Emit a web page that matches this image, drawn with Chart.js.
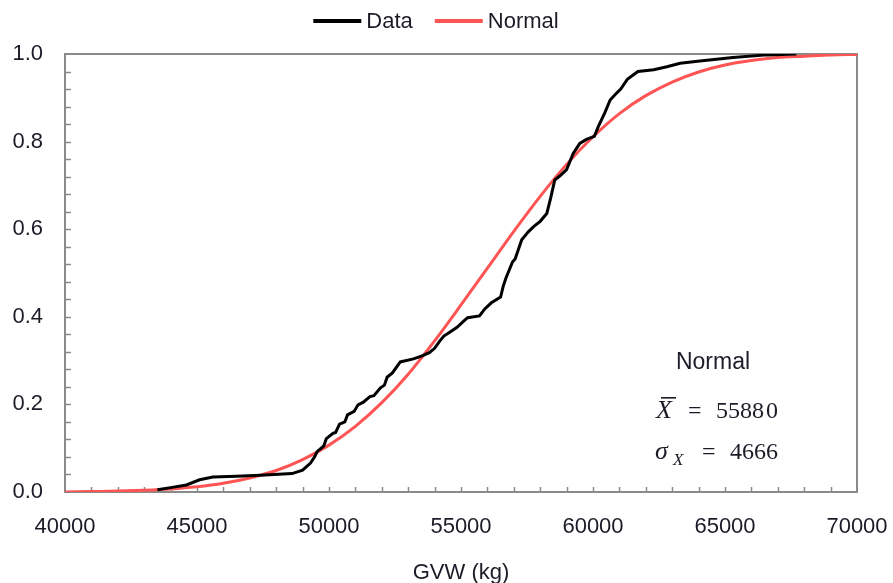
<!DOCTYPE html>
<html>
<head>
<meta charset="utf-8">
<script src="https://cdn.jsdelivr.net/npm/chart.js@4/dist/chart.umd.min.js"></script>
<style>
  html, body { margin: 0; padding: 0; background: #ffffff; }
  #wrap { width: 893px; height: 583px; }
</style>
</head>
<body>
<div id="wrap"><canvas id="cdf"></canvas></div>
<script>
// Empirical cumulative distribution of gross vehicle weight
const dataGvw = [43500, 44000, 44600, 45100, 45600, 46500, 47400, 48600, 49000, 49300,
  49450, 49550, 49800, 49900, 50150, 50250, 50400, 50600, 50700, 50950,
  51100, 51300, 51550, 51700, 51950, 52100, 52200, 52400, 52700, 53200,
  53500, 53800, 54000, 54200, 54350, 54600, 54850, 55100, 55250, 55700,
  55900, 56150, 56500, 56600, 56700, 56950, 57050, 57300, 57550, 57750,
  58000, 58250, 58400, 58550, 58750, 59000, 59250, 59500, 59750, 60050,
  60200, 60450, 60650, 60850, 61050, 61300, 61700, 62300, 62800, 63300,
  64050, 65300, 66600, 67700];
const dataCdf = [0.005, 0.010, 0.016, 0.028, 0.034, 0.036, 0.038, 0.042, 0.050, 0.066,
  0.080, 0.092, 0.105, 0.122, 0.134, 0.136, 0.155, 0.160, 0.176, 0.184,
  0.199, 0.205, 0.218, 0.220, 0.238, 0.244, 0.262, 0.272, 0.297, 0.304,
  0.310, 0.318, 0.328, 0.345, 0.356, 0.366, 0.376, 0.390, 0.398, 0.402,
  0.418, 0.432, 0.445, 0.470, 0.488, 0.525, 0.532, 0.576, 0.594, 0.606,
  0.618, 0.636, 0.672, 0.712, 0.722, 0.736, 0.773, 0.796, 0.805, 0.812,
  0.834, 0.866, 0.895, 0.908, 0.920, 0.942, 0.960, 0.964, 0.971, 0.979,
  0.984, 0.992, 0.998, 1.000];

// Fitted normal distribution, cumulative probability
const normalGvw = [40000, 41000, 42000, 43000, 44000, 45000, 46000, 47000, 48000, 49000,
  50000, 51000, 52000, 53000, 54000, 55000, 56000, 57000, 58000, 59000,
  60000, 61000, 62000, 63000, 64000, 65000, 66000, 67000, 68000, 69000, 70000];
const normalCdf = [0.000, 0.001, 0.002, 0.004, 0.007, 0.012, 0.020, 0.032, 0.049, 0.074,
  0.107, 0.150, 0.204, 0.269, 0.345, 0.427, 0.511, 0.595, 0.675, 0.748,
  0.811, 0.864, 0.905, 0.936, 0.959, 0.975, 0.985, 0.992, 0.995, 0.998, 0.999];

const seriesNames = ['Data', 'Normal'];
const seriesColors = ['#000000', '#ff5454'];
const xTickValues = [40000, 45000, 50000, 55000, 60000, 65000, 70000];
const yTickValues = [0.0, 0.2, 0.4, 0.6, 0.8, 1.0];
const fitLabel = 'Normal';
const fitMean = 55880;
const fitSigma = 4666;

const toPoints = (xs, ys) => xs.map((x, i) => ({ x: x, y: ys[i] }));

const SANS = '"Liberation Sans", Arial, sans-serif';
const SERIF = '"Liberation Serif", "Times New Roman", serif';
const TEXT = '#1c1c28';
const AXIS = '#8a8a8a';

// Frame, inward minor ticks, legend and fit annotation
const decorations = {
  id: 'decorations',
  beforeDatasetsDraw(chart) {
    const { ctx, chartArea: a, scales } = chart;
    const xs = scales.x, ys = scales.y;
    ctx.save();
    ctx.strokeStyle = AXIS;
    ctx.lineWidth = 1.5;
    ctx.beginPath();
    for (let v = 41000; v < 70000; v += 1000) {
      const px = Math.round(xs.getPixelForValue(v)) + 0.5;
      ctx.moveTo(px, a.bottom);
      ctx.lineTo(px, a.bottom - 5);
    }
    for (let k = 1; k < 25; k++) {
      const py = Math.round(ys.getPixelForValue(k * 0.04)) + 0.5;
      ctx.moveTo(a.left, py);
      ctx.lineTo(a.left + 6, py);
    }
    ctx.stroke();
    ctx.lineWidth = 2;
    ctx.strokeRect(a.left, a.top, a.right - a.left, a.bottom - a.top);
    ctx.restore();
  },
  afterDraw(chart) {
    const { ctx } = chart;
    ctx.save();
    // legend
    ctx.font = '22px ' + SANS;
    ctx.textBaseline = 'middle';
    const lineLen = 48, gap = 5, between = 22;
    const widths = seriesNames.map(n => ctx.measureText(n).width);
    const total = widths.reduce((s, w) => s + lineLen + gap + w, 0) + between * (seriesNames.length - 1);
    let x = 436 - total / 2;
    const ly = 21;
    seriesNames.forEach((n, i) => {
      ctx.strokeStyle = seriesColors[i];
      ctx.lineWidth = 4;
      ctx.beginPath();
      ctx.moveTo(x, ly);
      ctx.lineTo(x + lineLen, ly);
      ctx.stroke();
      ctx.fillStyle = TEXT;
      ctx.textAlign = 'left';
      ctx.fillText(n, x + lineLen + gap, ly + 1);
      x += lineLen + gap + widths[i] + between;
    });

    // fitted parameters
    ctx.fillStyle = TEXT;
    ctx.textAlign = 'center';
    ctx.textBaseline = 'alphabetic';
    ctx.font = '23px ' + SANS;
    ctx.fillText(fitLabel, 713, 369);

    ctx.textAlign = 'left';
    ctx.font = 'italic 26px ' + SERIF;
    ctx.fillText('X', 656, 418);
    ctx.fillRect(661, 397, 15, 1.6);
    ctx.font = '24px ' + SERIF;
    ctx.fillText('=', 688, 418);
    ctx.fillText(String(fitMean).slice(0, 4) + '\u200a' + String(fitMean).slice(4), 716, 418);

    ctx.font = 'italic 26px ' + SERIF;
    ctx.fillText('\u03c3', 655, 459);
    ctx.font = 'italic 17px ' + SERIF;
    ctx.fillText('X', 673, 465);
    ctx.font = '24px ' + SERIF;
    ctx.fillText('=', 702, 459);
    ctx.fillText(String(fitSigma), 730, 459);
    ctx.restore();
  }
};

new Chart(document.getElementById('cdf'), {
  type: 'scatter',
  data: {
    datasets: [
      {
        label: seriesNames[0],
        data: toPoints(dataGvw, dataCdf),
        showLine: true,
        borderColor: seriesColors[0],
        backgroundColor: seriesColors[0],
        borderWidth: 3,
        pointRadius: 0,
        tension: 0
      },
      {
        label: seriesNames[1],
        data: toPoints(normalGvw, normalCdf),
        showLine: true,
        borderColor: seriesColors[1],
        backgroundColor: seriesColors[1],
        borderWidth: 3,
        pointRadius: 0,
        cubicInterpolationMode: 'monotone'
      }
    ]
  },
  options: {
    responsive: true,
    maintainAspectRatio: false,
    animation: false,
    events: [],
    layout: { padding: { top: 54, right: 36, bottom: 0, left: 0 } },
    plugins: {
      legend: { display: false },
      tooltip: { enabled: false }
    },
    scales: {
      x: {
        type: 'linear',
        min: 40000,
        max: 70000,
        afterBuildTicks(scale) { scale.ticks = xTickValues.map(v => ({ value: v })); },
        afterFit(scale) { scale.height = 91; scale.paddingLeft = 0; scale.paddingRight = 0; },
        grid: { display: false, drawTicks: false },
        border: { display: false },
        ticks: {
          color: TEXT,
          font: { family: SANS, size: 22 },
          padding: 22,
          maxRotation: 0,
          autoSkip: false,
          callback: v => String(v)
        },
        title: {
          display: true,
          text: 'GVW (kg)',
          color: TEXT,
          font: { family: SANS, size: 22, lineHeight: 0.9 },
          padding: { top: 0, bottom: 0 }
        }
      },
      y: {
        type: 'linear',
        min: 0,
        max: 1,
        afterBuildTicks(scale) { scale.ticks = yTickValues.map(v => ({ value: v })); },
        afterFit(scale) { scale.width = 65; scale.paddingTop = 0; scale.paddingBottom = 0; },
        grid: { display: false, drawTicks: false },
        border: { display: false },
        ticks: {
          color: TEXT,
          font: { family: SANS, size: 22 },
          padding: 22,
          autoSkip: false,
          callback: v => Number(v).toFixed(1)
        }
      }
    }
  },
  plugins: [decorations]
});
</script>
</body>
</html>
